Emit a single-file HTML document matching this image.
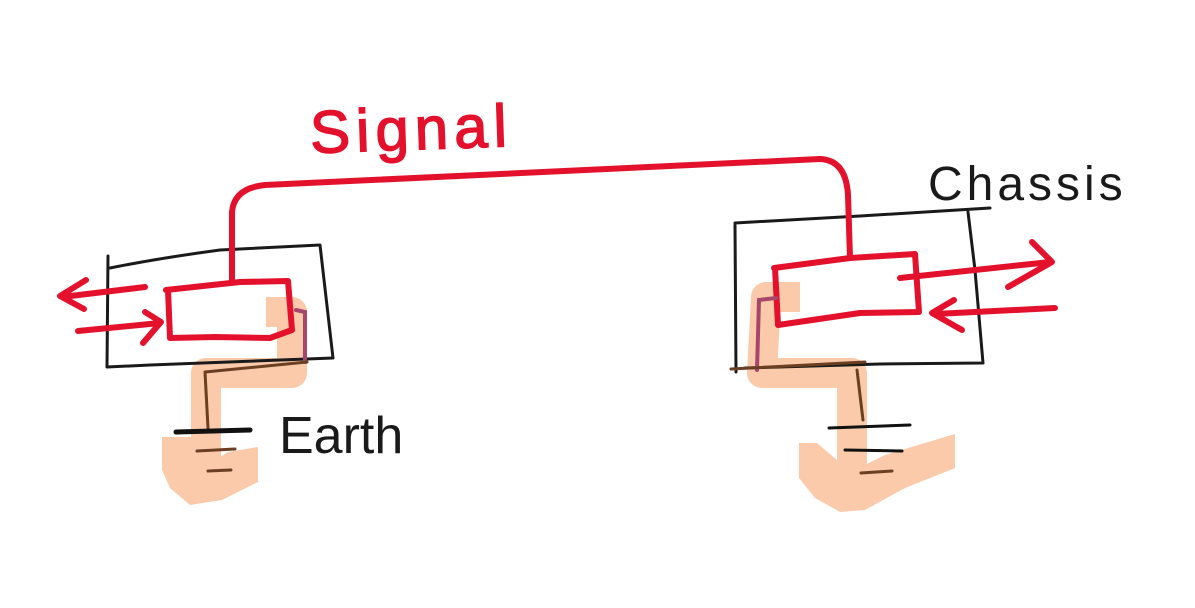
<!DOCTYPE html>
<html><head><style>
html,body{margin:0;padding:0;background:#fff;}
svg{display:block;}
</style></head><body>
<svg width="1195" height="608" viewBox="0 0 1195 608" xmlns="http://www.w3.org/2000/svg" font-family="Liberation Sans, sans-serif">
<rect width="1195" height="608" fill="#fff"/>
<g fill="none" stroke="#fbcaab" stroke-width="30" stroke-linejoin="round" stroke-linecap="butt">
<path d="M 266,312 L 292,312 L 292,373 L 206,373 L 206,484"/>
<path d="M 800,297 L 766,297 L 762,373 L 852,373 L 852,505"/>
</g>
<g fill="#fbcaab">
<path d="M 162,437 L 193,437 L 205,467 L 228,452 L 258,447 L 258,482 L 222,500 L 190,505 L 170,488 L 162,470 Z"/>
<path d="M 799,443 L 817,443 L 851,472 L 885,455 L 955,434 L 955,468 L 905,488 L 865,510 L 840,512 L 815,498 L 799,478 Z"/>
</g>
<g fill="none" stroke="#1a1a1a" stroke-width="3" stroke-linecap="round" stroke-linejoin="round">
<path d="M 108,256 L 107,367 L 150,365 L 333,358 L 320,245 L 220,250 Q 160,258 110,268"/>
<path d="M 735,225 L 736,372 M 735,223 L 860,216 L 990,208 M 968,212 L 975,270 L 983,363 L 880,364 L 745,368"/>
</g>
<g fill="none" stroke="#e4112d" stroke-width="6" stroke-linecap="round" stroke-linejoin="round">
<path d="M 232,282 L 232,212 Q 234,188 265,185 L 820,159 Q 846,160 848,195 L 850,258"/>
<path d="M 166,290 L 240,282 L 288,281 L 292,330 L 270,338 L 215,337 L 170,338 L 168,290"/>
<path d="M 774,268 L 850,258 L 915,254 L 919,312 L 860,313 L 778,325 L 775,268"/>
<path d="M 145,287 L 62,297 M 86,280 L 60,296 L 84,309"/>
<path d="M 78,331 L 160,323 M 145,312 L 161,322 L 143,343"/>
<path d="M 900,278 L 1050,262 M 1032,242 L 1052,262 L 1008,287"/>
<path d="M 1055,308 L 935,314 M 954,300 L 932,313 L 962,330"/>
</g>
<g fill="none" stroke="#a8456a" stroke-width="4" stroke-linecap="round">
<path d="M 296,310 L 305,312 L 305,362"/>
<path d="M 776,298 L 759,300 L 757,370"/>
</g>
<g fill="none" stroke="#6b3f22" stroke-width="3" stroke-linecap="round">
<path d="M 205,372 L 307,362 M 205,372 L 208,428"/>
<path d="M 731,369 L 865,362 M 857,370 L 863,420"/>
<path d="M 197,451 L 235,449 M 208,471 L 231,470"/>
<path d="M 861,473 L 892,471"/>
</g>
<g fill="none" stroke="#111" stroke-linecap="round">
<path d="M 176,432 L 250,430" stroke-width="5"/>
<path d="M 829,428 L 910,425" stroke-width="3"/>
<path d="M 845,450 L 902,451" stroke-width="3"/>
</g>
<text x="310" y="150" font-size="60" fill="#e4112d" letter-spacing="6" stroke="#e4112d" stroke-width="1.5" transform="rotate(-2 400 130)">Signal</text>
<text x="928" y="200" font-size="48" fill="#1a1a1a" letter-spacing="4">Chassis</text>
<text x="279" y="453" font-size="52" fill="#1a1a1a">Earth</text>
</svg>
</body></html>
